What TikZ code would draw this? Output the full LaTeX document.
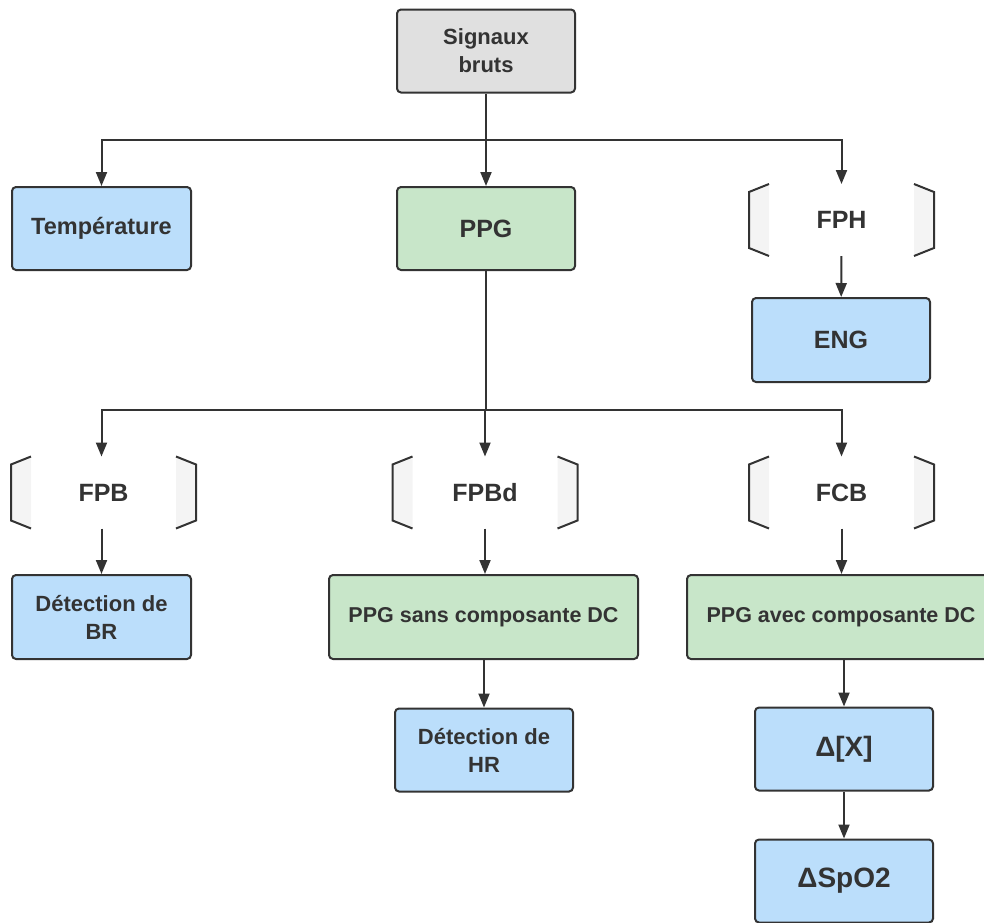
\documentclass[tikz,border=0pt]{standalone}
\usepackage{fontspec}
\setmainfont{Liberation Sans}
\usetikzlibrary{arrows.meta, calc}

\definecolor{linegray}{HTML}{333333}
\definecolor{textgray}{HTML}{333333}
\definecolor{boxgray}{HTML}{E0E0E0}
\definecolor{boxblue}{HTML}{BBDEFB}
\definecolor{boxgreen}{HTML}{C8E6C9}
\definecolor{bracketfill}{HTML}{F4F4F4}

\begin{document}
\begin{tikzpicture}[x=1pt, y=-1pt, line width=2pt, font=\bfseries,
  box/.style={draw=linegray, rounded corners=4pt, text=textgray, align=center,
    minimum width=178pt, minimum height=83pt, inner sep=0pt},
  bracketbox/.style={minimum width=183pt, minimum height=70pt, text=textgray, inner sep=0pt},
  small/.style={font=\bfseries\fontsize{22}{28}\selectfont},
  big/.style={font=\bfseries\fontsize{25}{30}\selectfont},
  huge/.style={font=\bfseries\fontsize{28}{32}\selectfont},
  arr/.style={draw=linegray, -{Triangle[length=14pt, width=11pt]}}]

  \useasboundingbox (0,0) rectangle (984,922);

  % premier niveau
  \node[box, small, fill=boxgray]  (sig)  at (486,51)    {Signaux\\bruts};
  \node[box, fill=boxblue, minimum width=179pt, font=\bfseries\fontsize{23.5}{28}\selectfont]
                                   (temp) at (101.5,228.5) {Température};
  \node[box, big, fill=boxgreen]   (ppg)  at (486,228.5) {PPG};
  \node[bracketbox, big]           (fph)  at (841.5,220) {FPH};
  \node[box, big, fill=boxblue, minimum height=84pt] (eng) at (841,340) {ENG};

  % filtres
  \node[bracketbox, big] (fpb)  at (103.5,492.5) {FPB};
  \node[bracketbox, big] (fpbd) at (485,492.5)   {FPBd};
  \node[bracketbox, big] (fcb)  at (841.5,492.5) {FCB};

  % sorties
  \node[box, small, fill=boxblue, minimum width=179pt, minimum height=84pt]
                                    (br)   at (101.5,617) {Détection de\\BR};
  \node[box, small, fill=boxgreen, minimum width=309pt, minimum height=84pt, font=\bfseries\fontsize{21.5}{28}\selectfont]
                                    (ppgs) at (483.5,617) {PPG sans composante DC};
  \node[box, small, fill=boxgreen, minimum width=308pt, minimum height=84pt, font=\bfseries\fontsize{21.5}{28}\selectfont]
                                    (ppga) at (841,617)   {PPG avec composante DC};
  \node[box, small, fill=boxblue]  (hr)   at (484,750)   {Détection de\\HR};
  \node[box, huge, fill=boxblue]   (dx)   at (844,749)   {Δ[X]};
  \node[box, huge, fill=boxblue]   (spo)  at (844,881)   {ΔSpO2};

  % crochets des filtres
  \foreach \n in {fph, fpb, fpbd, fcb} {
    \fill[bracketfill] ($(\n.north west)+(20,0)$) -- ($(\n.north west)+(0,8)$)
      -- ($(\n.south west)+(0,-8)$) -- ($(\n.south west)+(20,0)$) -- cycle;
    \fill[bracketfill] ($(\n.north east)+(-20,0)$) -- ($(\n.north east)+(0,8)$)
      -- ($(\n.south east)+(0,-8)$) -- ($(\n.south east)+(-20,0)$) -- cycle;
    \draw[linegray] ($(\n.north west)+(20,0)$) -- ($(\n.north west)+(0,8)$)
      -- ($(\n.south west)+(0,-8)$) -- ($(\n.south west)+(20,0)$);
    \draw[linegray] ($(\n.north east)+(-20,0)$) -- ($(\n.north east)+(0,8)$)
      -- ($(\n.south east)+(0,-8)$) -- ($(\n.south east)+(-20,0)$);
  }

  % liaisons
  \coordinate (j1) at (486,140);
  \coordinate (j2) at (486,410);

  \draw[linegray] (sig) -- (j1);
  \draw[arr] (j1) -| (temp);
  \draw[arr] (j1) -- (ppg);
  \draw[arr] (j1) -| (fph);
  \draw[arr] (fph) -- (eng);

  \draw[linegray] (ppg) -- (j2);
  \draw[arr] (j2) -| (fpb.north -| br);
  \draw[arr] (j2) -| (fpbd.north);
  \draw[arr] (j2) -| (fcb);

  \draw[arr] (fpb.south -| br) -- (br);
  \draw[arr] (fpbd) -- (fpbd |- ppgs.north);
  \draw[arr] (ppgs.south -| hr) -- (hr);
  \draw[arr] (fcb) -- (fcb |- ppga.north);
  \draw[arr] (ppga.south -| dx) -- (dx);
  \draw[arr] (dx) -- (spo);
\end{tikzpicture}
\end{document}
